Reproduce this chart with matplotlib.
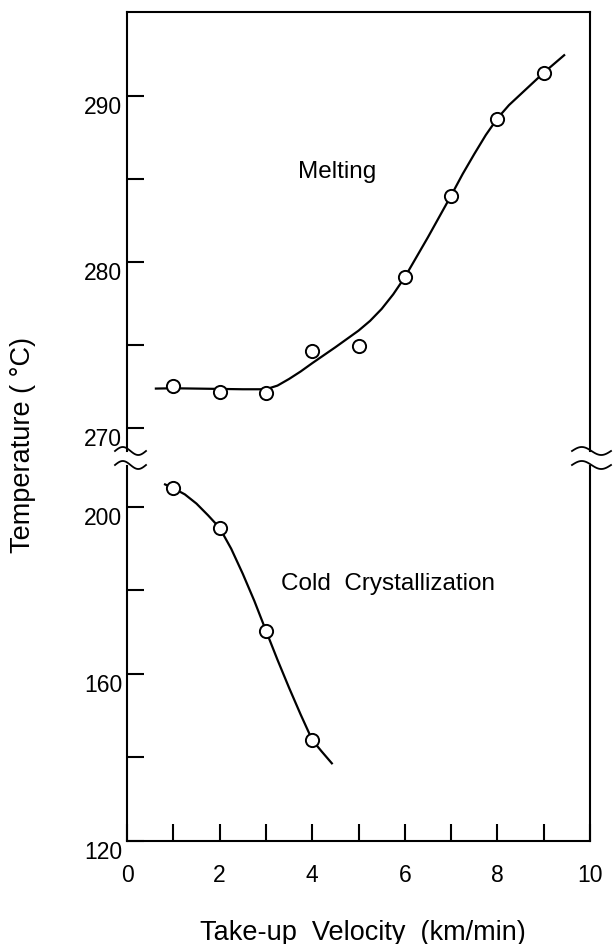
import numpy as np
import matplotlib.pyplot as plt
import matplotlib.transforms as mtransforms
from matplotlib.lines import Line2D

plt.rcParams['font.family'] = ['Liberation Sans', 'DejaVu Sans']

# measured transition temperatures vs take-up velocity (km/min)
velocity_melt = [1, 2, 3, 4, 5, 6, 7, 8, 9]
temp_melt = [272.55, 272.15, 272.13, 274.62, 274.92, 279.08, 284.0, 288.6, 291.4]
velocity_cold = [1, 2, 3, 4]
temp_cold = [204.5, 195.0, 170.4, 144.2]

# hand-drawn trend curves through the data
melt_curve_x = [0.6, 1, 1.5, 2, 2.5, 3, 3.25, 3.5, 3.75, 4, 4.5, 5, 5.25, 5.5, 5.75,
                6, 6.5, 7, 7.25, 7.5, 7.75, 8, 8.25, 8.5, 9, 9.46]
melt_curve_y = [272.37, 272.39, 272.37, 272.35, 272.33, 272.33, 272.55, 272.95, 273.4,
                273.9, 274.86, 275.86, 276.45, 277.17, 278.05, 279.08, 281.49, 284.0,
                285.3, 286.5, 287.65, 288.65, 289.45, 290.1, 291.4, 292.5]
cold_curve_x = [0.8, 1, 1.25, 1.5, 1.75, 2, 2.25, 2.5, 2.75, 3, 3.25, 3.5, 3.75, 4, 4.2, 4.44]
cold_curve_y = [205.5, 204.5, 203.0, 200.8, 198.0, 195.0, 190.0, 184.0, 177.5, 170.4,
                163.4, 156.7, 150.3, 144.2, 141.5, 138.4]

x_major = [0, 2, 4, 6, 8, 10]
x_minor = [1, 3, 5, 7, 9]

W, H = 613, 945
fig = plt.figure(figsize=(W / 100, H / 100), dpi=100)


def fx(px):
    return px / W


def fy(py):
    return 1 - py / H


left, right = 127, 590
ax_top = fig.add_axes([fx(left), fy(452), fx(right) - fx(left), fy(13) - fy(452)])
ax_bot = fig.add_axes([fx(left), fy(842), fx(right) - fx(left), fy(467) - fy(842)])

ax_top.set_xlim(0, 10)
ax_bot.set_xlim(0, 10)
ax_top.set_ylim(268.61, 295.06)
ax_bot.set_ylim(120, 209.8)

lw = 1.5
for ax in (ax_top, ax_bot):
    for s in ax.spines.values():
        s.set_linewidth(lw)
ax_top.spines['bottom'].set_visible(False)
ax_bot.spines['top'].set_visible(False)

# curves and markers
mk = dict(marker='o', ms=9.5, mfc='white', mec='black', mew=1.4, ls='none', zorder=3)
ax_top.plot(melt_curve_x, melt_curve_y, color='black', lw=1.6, solid_capstyle='butt')
ax_top.plot(velocity_melt, temp_melt, **mk)
ax_bot.plot(cold_curve_x, cold_curve_y, color='black', lw=1.6, solid_capstyle='butt')
ax_bot.plot(velocity_cold, temp_cold, **mk)

ax_top.text(4.54, 285.5, 'Melting', fontsize=17.5, ha='center', va='center')
ax_bot.text(5.64, 181.8, 'Cold  Crystallization', fontsize=17.5, ha='center', va='center')

# ticks
ax_top.set_yticks([270, 280, 290])
ax_top.set_yticks([275, 285], minor=True)
ax_top.set_xticks([])
ax_bot.set_yticks([120, 160, 200])
ax_bot.set_yticks([140, 180], minor=True)
ax_bot.set_xticks(x_major)
ax_bot.set_xticks(x_minor, minor=True)
ax_bot.set_xticklabels([str(v) for v in x_major])

for ax in (ax_top, ax_bot):
    ax.tick_params(axis='both', which='both', direction='in', length=12.5, width=lw,
                   labelsize=16.5)
    ax.tick_params(axis='y', which='both', pad=3.5)
ax_bot.tick_params(axis='x', which='both', pad=16)

# y labels sit a bit below their ticks
shift = mtransforms.ScaledTranslation(0, -8 / 100, fig.dpi_scale_trans)
for ax in (ax_top, ax_bot):
    for lab in ax.get_yticklabels():
        lab.set_transform(lab.get_transform() + shift)

fig.text(fx(363), fy(933), 'Take-up  Velocity  (km/min)', fontsize=19.5,
         ha='center', va='center')
fig.text(fx(23), fy(445), 'Temperature ( °C)', fontsize=19.5, rotation=90,
         ha='center', va='center')

# axis break marks on both sides
t = np.linspace(0, 1, 60)
for xc, x0, x1 in ((left, -12, 19), (right, -18, 21)):
    for yc in (452, 466):
        xs = xc + x0 + (x1 - x0) * t
        ys = yc - 4 * np.sin(2 * np.pi * t)
        fig.add_artist(Line2D(fx(xs), fy(ys), color='black', lw=1.3,
                              transform=fig.transFigure))

fig.savefig('out.png', dpi=100)
